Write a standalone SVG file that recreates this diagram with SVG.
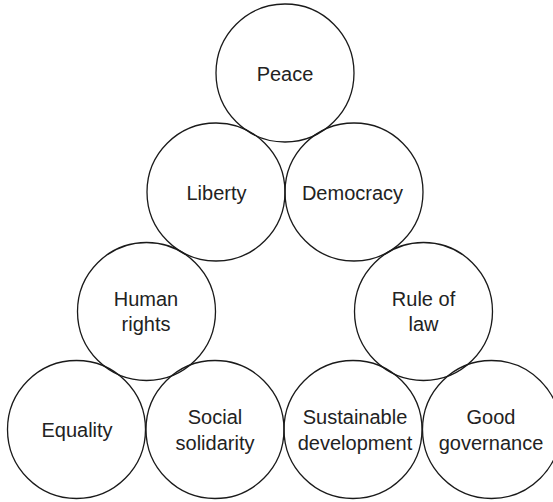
<svg xmlns="http://www.w3.org/2000/svg" width="553" height="502" viewBox="0 0 553 502">
  <style>
    .c { fill: none; stroke: #1a1a1a; stroke-width: 1.3; }
    .t { font-family: "Liberation Sans", Arial, sans-serif; font-size: 20px; fill: #222; text-anchor: middle; }
  </style>
  <rect width="553" height="502" fill="#ffffff"/>
  <g id="connectors"/>
  <g id="peace">
    <circle class="c" cx="285" cy="73" r="69"/>
    <text class="t" x="285" y="81">Peace</text>
  </g>
  <g id="liberty">
    <circle class="c" cx="216" cy="192" r="69"/>
    <text class="t" x="216.5" y="200">Liberty</text>
  </g>
  <g id="democracy">
    <circle class="c" cx="354" cy="192" r="69"/>
    <text class="t" x="352.5" y="200">Democracy</text>
  </g>
  <g id="human-rights">
    <circle class="c" cx="146.5" cy="311.5" r="69"/>
    <text class="t" x="146" y="306">Human</text>
    <text class="t" x="146" y="331">rights</text>
  </g>
  <g id="rule-of-law">
    <circle class="c" cx="423.5" cy="311.5" r="69"/>
    <text class="t" x="423.5" y="306">Rule of</text>
    <text class="t" x="423.5" y="331">law</text>
  </g>
  <g id="equality">
    <circle class="c" cx="76.5" cy="429.5" r="69"/>
    <text class="t" x="77" y="437">Equality</text>
  </g>
  <g id="social-solidarity">
    <circle class="c" cx="215" cy="429.5" r="69"/>
    <text class="t" x="215" y="424">Social</text>
    <text class="t" x="215" y="450">solidarity</text>
  </g>
  <g id="sustainable-development">
    <circle class="c" cx="353" cy="429.5" r="69"/>
    <text class="t" x="355" y="424">Sustainable</text>
    <text class="t" x="355" y="450">development</text>
  </g>
  <g id="good-governance">
    <circle class="c" cx="491.5" cy="429.5" r="69"/>
    <text class="t" x="491" y="424">Good</text>
    <text class="t" x="491" y="450">governance</text>
  </g>
</svg>
